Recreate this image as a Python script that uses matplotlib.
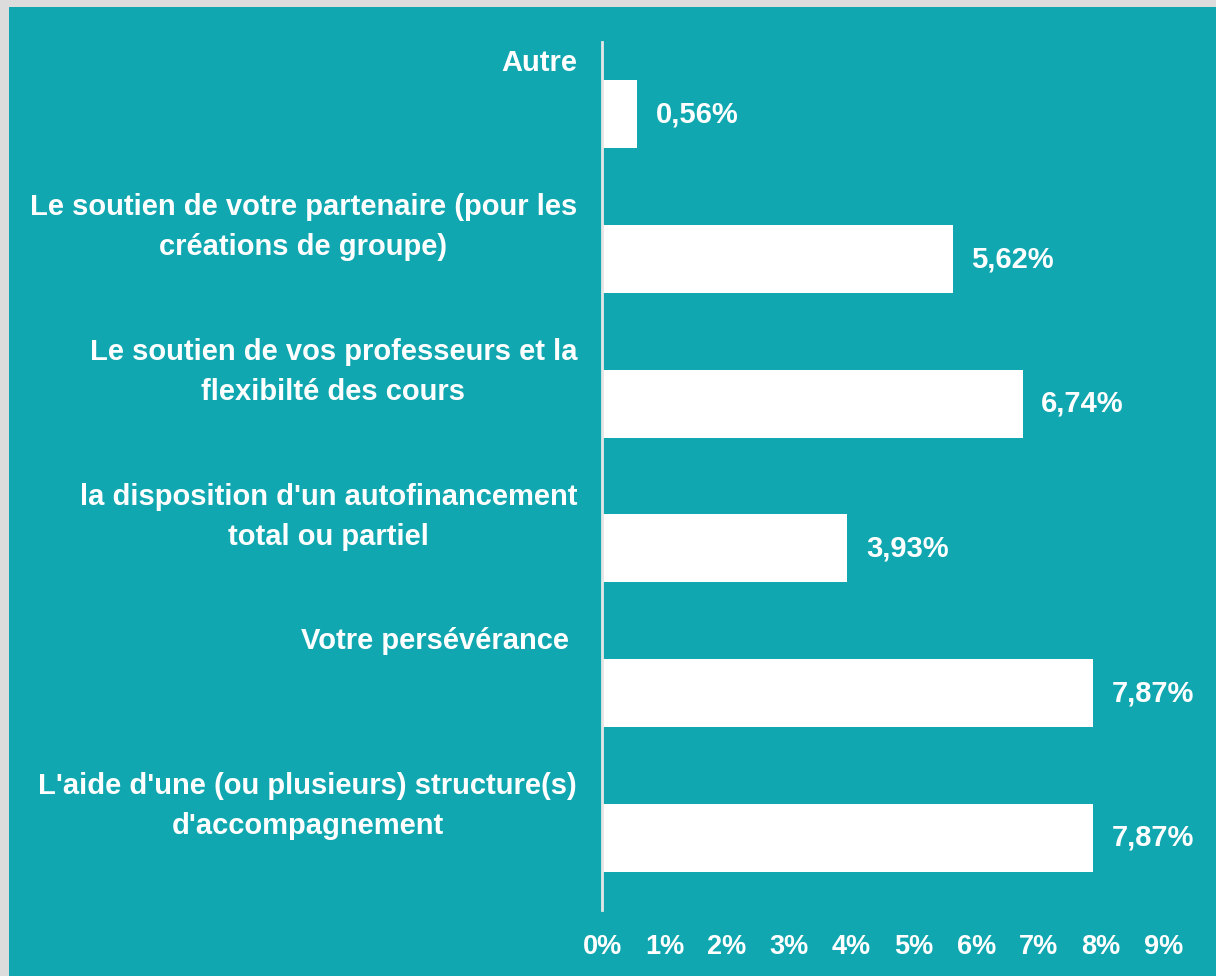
import matplotlib.pyplot as plt
from matplotlib.patches import Rectangle

categories = [
    "Autre",
    "Le soutien de votre partenaire (pour les\ncréations de groupe)",
    "Le soutien de vos professeurs et la\nflexibilté des cours",
    "la disposition d'un autofinancement\ntotal ou partiel",
    "Votre persévérance ",
    "L'aide d'une (ou plusieurs) structure(s)\nd'accompagnement",
]
values = [0.56, 5.62, 6.74, 3.93, 7.87, 7.87]
value_labels = ["0,56%", "5,62%", "6,74%", "3,93%", "7,87%", "7,87%"]
ticks = list(range(10))
tick_labels = [f"{t}%" for t in ticks]

teal = "#11a7b0"
border = "#dcdcdc"

plt.rcParams["font.family"] = ["Liberation Sans", "DejaVu Sans"]

fig = plt.figure(figsize=(12.16, 9.76), dpi=100)
fig.patch.set_facecolor(border)
# teal panel inside light grey frame
fig.add_artist(Rectangle((9 / 1216, 0), 1, 1 - 7 / 976, transform=fig.transFigure,
                         facecolor=teal, edgecolor="none", zorder=0))

ax = fig.add_axes([602 / 1216, 1 - 910 / 976, 1 - 602 / 1216, (910 - 42) / 976])
ax.set_facecolor("none")

y = list(range(len(categories)))
ax.barh(y, values, height=0.47, color="white", zorder=2)
ax.set_xlim(0, 9.84)
ax.set_ylim(len(categories) - 0.5, -0.5)

for i, (v, lab) in enumerate(zip(values, value_labels)):
    ax.text(v + 0.3, i, lab, color="white", fontsize=21, fontweight="bold",
            va="center", ha="left")

for i, cat in enumerate(categories):
    ax.text(-0.4, i - 0.5 + 0.045, cat, color="white", fontsize=21, fontweight="bold",
            va="top", ha="right", multialignment="center", linespacing=1.55)

ax.set_xticks(ticks)
ax.set_xticklabels(tick_labels, color="white", fontsize=19.5, fontweight="bold")
ax.tick_params(axis="x", length=0, pad=17)
ax.set_yticks([])

for s in ["top", "right", "bottom"]:
    ax.spines[s].set_visible(False)
ax.spines["left"].set_color("#e6e6e6")
ax.spines["left"].set_linewidth(2)
ax.spines["left"].set_zorder(3)

fig.savefig("out.png", dpi=100, facecolor=fig.get_facecolor())
